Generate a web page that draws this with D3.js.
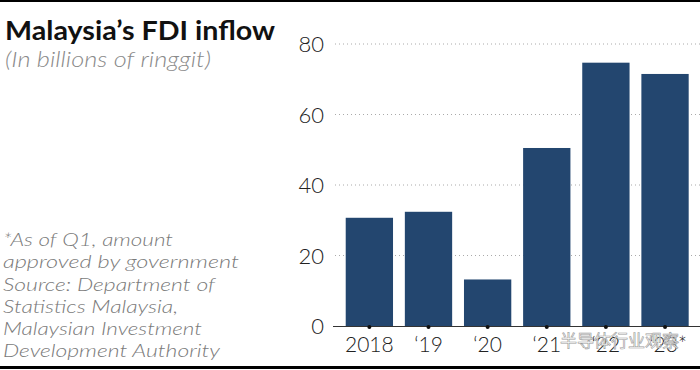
<!DOCTYPE html>
<html><head><meta charset="utf-8">
<script src="https://cdn.jsdelivr.net/npm/d3@7"></script>
<style>
html,body{margin:0;padding:0;background:#fff;}
svg{display:block;}
</style></head>
<body>
<svg id="chart" width="700" height="370"></svg>
<script>
const categories = ["2018", "\u201819", "\u201820", "\u201821", "\u201822", "\u201823*"];
const values = [30.7, 32.4, 13.2, 50.5, 74.7, 71.5];
const yTicks = [0, 20, 40, 60, 80];
const title = "Malaysia\u2019s FDI inflow";
const subtitle = "(In billions of ringgit)";
const notes = ["*As of Q1, amount", "approved by government", "Source: Department of", "Statistics Malaysia,", "Malaysian Investment", "Development Authority"];
const watermark = "半导体行业观察";

const svg = d3.select("#chart");
const W = 700, H = 370;
const FONT = "Lato, 'Open Sans', sans-serif";

function fit(sel, target) {
  sel.each(function() {
    const w = this.getComputedTextLength();
    if (Math.abs(w - target) > 1) {
      d3.select(this).attr("textLength", target).attr("lengthAdjust", "spacingAndGlyphs");
    }
  });
}

svg.append("rect").attr("x",0).attr("y",0).attr("width",W).attr("height",2).attr("fill","#000");
svg.append("rect").attr("x",0).attr("y",366).attr("width",W).attr("height",3).attr("fill","#000");

svg.append("text").attr("x",5).attr("y",40).text(title)
  .attr("font-family",FONT).attr("font-weight",700)
  .attr("font-size",26).attr("fill","#111").call(fit, 270);
svg.append("text").attr("x",5).attr("y",67).text(subtitle)
  .attr("font-family",FONT).attr("font-weight",300).attr("font-style","italic")
  .attr("font-size",22).attr("fill","#8a8a8a").call(fit, 206);

const noteWidths = [170, 236, 212, 175, 199, 217];
svg.append("g").selectAll("text").data(notes).join("text")
  .attr("x",3).attr("y",(d,i)=>246+i*22.26).text(d=>d)
  .attr("font-family",FONT).attr("font-weight",300).attr("font-style","italic")
  .attr("font-size",18.5).attr("fill","#7a7a7a")
  .each(function(d,i){ d3.select(this).call(fit, noteWidths[i]); });

const x = d3.scaleBand().domain(categories).range([339.8, 694.6]).paddingInner(0.2).paddingOuter(0.1);
const y = d3.scaleLinear().domain([0,80]).range([326,44]);

// gridlines
svg.append("g").selectAll("line").data(yTicks.filter(t=>t>0)).join("line")
  .attr("x1",335).attr("x2",W).attr("y1",d=>y(d)).attr("y2",d=>y(d))
  .attr("stroke","#aaa").attr("stroke-width",1).attr("stroke-dasharray","1,3");

// y labels
svg.append("g").selectAll("text").data(yTicks).join("text")
  .attr("x",324).attr("y",d=>y(d)+8).attr("text-anchor","end").text(d=>d)
  .attr("font-family",FONT).attr("font-weight",300)
  .attr("font-size",22).attr("fill","#222");

// bars
svg.append("g").selectAll("rect").data(values).join("rect")
  .attr("x",(d,i)=>x(categories[i])).attr("width",x.bandwidth())
  .attr("y",d=>y(d)).attr("height",d=>y(0)-y(d)).attr("fill","#23466f");

// axis line
svg.append("line").attr("x1",333).attr("x2",W).attr("y1",y(0)+0.5).attr("y2",y(0)+0.5)
  .attr("stroke","#333").attr("stroke-width",1.2);

// tick dots
svg.append("g").selectAll("circle").data(categories).join("circle")
  .attr("cx",d=>x(d)+x.bandwidth()/2).attr("cy",y(0)+1).attr("r",2).attr("fill","#111");

// x labels
svg.append("g").selectAll("text").data(categories).join("text")
  .attr("x",d=>x(d)+x.bandwidth()/2 + (d.endsWith("*") ? 3 : 0)).attr("y",352).attr("text-anchor","middle").text(d=>d)
  .attr("font-family",FONT).attr("font-weight",300)
  .attr("font-size",21).attr("fill","#222");

// watermark
svg.append("text").attr("x",560).attr("y",347).text(watermark)
  .attr("font-family","'Noto Sans CJK SC', sans-serif").attr("font-size",17)
  .attr("fill","#fff").attr("fill-opacity",0.85).attr("stroke","#999").attr("stroke-width",0.6);
</script>
</body></html>
